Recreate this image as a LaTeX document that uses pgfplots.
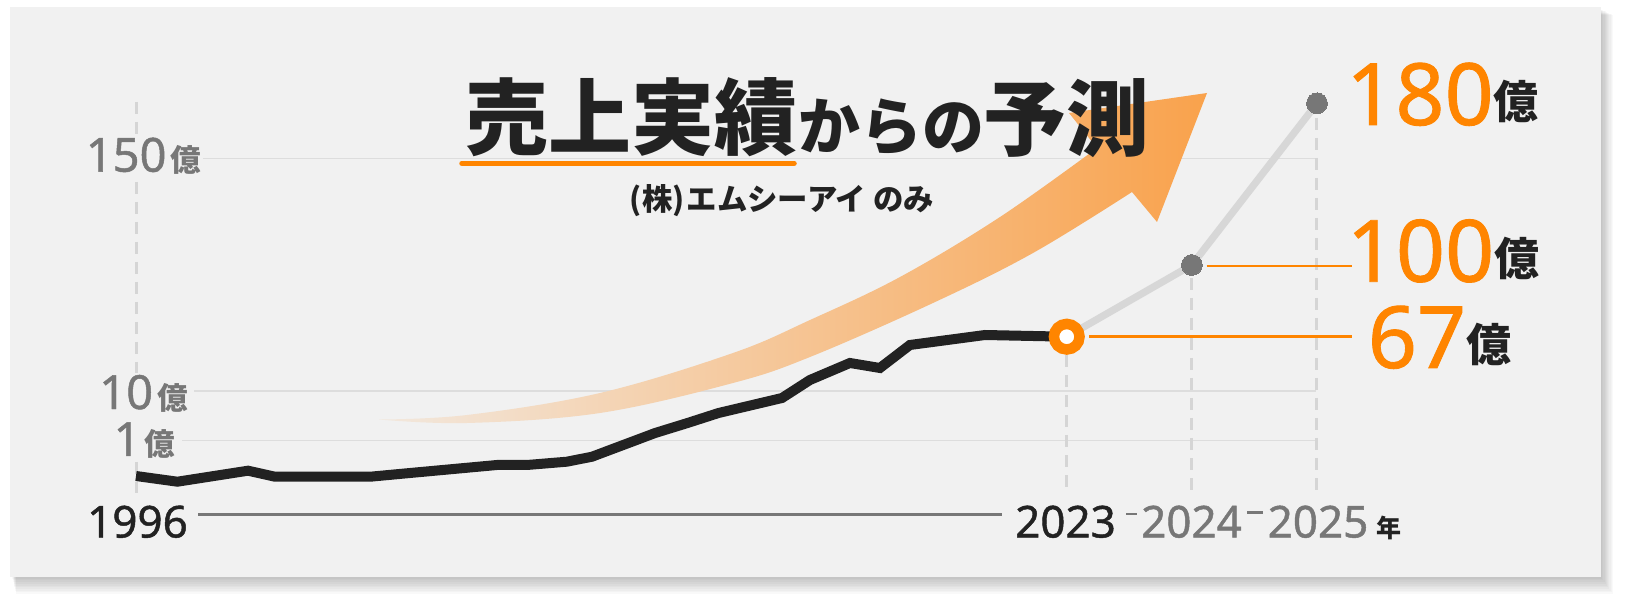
\documentclass[border=0pt]{standalone}
\usepackage{fontspec}
\setmainfont{Noto Sans CJK JP}
\newfontfamily\numf{Noto Sans}[FakeBold=1]
\usepackage{pgfplots}
\pgfplotsset{compat=1.18}
\definecolor{panel}{HTML}{F1F1F1}
\definecolor{ink}{HTML}{222222}
\definecolor{mid}{HTML}{777777}
\definecolor{gridc}{HTML}{DDDDDD}
\definecolor{dashc}{HTML}{D5D5D5}
\definecolor{fc}{HTML}{D7D7D7}
\definecolor{org}{HTML}{FF8500}
\definecolor{arrowL}{HTML}{F2E8DE}
\definecolor{arrowR}{HTML}{F9A24C}
\newcommand{\fs}[1]{\fontsize{#1}{#1}\selectfont}

% black line: x = year, y = visual height above the time axis
\pgfplotstableread{
x y
1996 38.3
1997.2 32.6
1999.25 43.6
2000.03 37.6
2002.8 37.6
2003.95 41.3
2006.47 49.3
2007.34 49.3
2008.5 52.6
2009.23 57.6
2011.06 81.3
2012 91.3
2012.9 101.3
2014.74 116.3
2015.55 134.3
2016.71 151.3
2017.58 146.3
2018.45 169.3
2020.63 179.3
2023 177.6
}\actual
% forecast: 2023, 2024, 2025 (x stretched as in the chart)
\pgfplotstableread{
x y
2023 177.6
2026.63 249.3
2030.26 411
}\forecast

\begin{document}
\begin{tikzpicture}
\begin{scope}[x=0.5pt,y=-0.5pt]
 \fill[white] (0,0) rectangle (1629,609);
 \foreach \i in {1,...,10} {\fill[black,opacity=0.022] (12+\i*0.4,9+\i*0.6) rectangle (1601+\i*1.2,577+\i*1.7);}
 \fill[panel] (10,7) rectangle (1601,577);
 \draw[gridc, line width=0.75pt] (203,158.3) -- (1316,158.3);
 \draw[gridc, line width=0.75pt] (194,391) -- (1316,391);
 \draw[gridc, line width=0.75pt] (182,440.7) -- (1316,440.7);
 \begin{scope}[dashc, line width=1.5pt, dash pattern=on 5.8pt off 4.2pt]
  \draw (136,102) -- (136,493);
  \draw (1066.7,355) -- (1066.7,493);
  \draw (1191.7,278) -- (1191.7,493);
  \draw (1316.5,118) -- (1316.5,495);
 \end{scope}
 \draw[mid, line width=1.65pt] (198,514.3) -- (1001.7,514.3);
 \draw[mid, line width=1.35pt] (1126,514) -- (1137,514);
 \draw[mid, line width=1.35pt] (1247,512.7) -- (1263,512.7);
 \shade[left color=arrowL, right color=arrowR] (379,419.5) -- plot[smooth, tension=0.6] coordinates {(379,419.5) (467,415) (600,393) (733,353) (810,320) (900,277) (1000,217) (1097,148)} -- (1069,113) -- (1207,93) -- (1157,222) -- (1132,192) -- plot[smooth,tension=0.6] coordinates {(1132,192) (1033,253) (933,303) (810,357) (733,383) (600,413) (467,423) (379,419.5)} -- cycle;
\end{scope}

\begin{axis}[at={(68pt,-257.15pt)}, anchor=south west, scale only axis,
  width=590.5pt, height=205.5pt, xmin=1996, xmax=2030.26, ymin=0, ymax=411,
  hide axis, clip=false]
 \addplot[fc, line width=3.6pt] table {\forecast};
 \addplot[ink, line width=5pt] table {\actual};
 \addplot[only marks, mark=*, mark size=5.2pt, mark options={fill=mid, draw=mid, line width=0pt}] table[skip first n=1] {\forecast};
 \addplot[only marks, mark=*, mark size=6.4pt, mark options={fill=white, draw=org, line width=5.25pt}] coordinates {(2023,177.6)};
\end{axis}

\begin{scope}[x=0.5pt,y=-0.5pt]
 \node[anchor=base, fill=panel, inner sep=1pt, text=mid] at (143.5,171.7) {\numf\fs{23.5pt}150\hspace{2pt}{\rmfamily\fs{15.3pt}\bfseries 億}};
 \node[anchor=base, fill=panel, inner sep=1pt, text=mid] at (143.5,409) {\numf\fs{23.5pt}10\hspace{2pt}{\rmfamily\fs{15.3pt}\bfseries 億}};
 \node[anchor=base, fill=panel, inner sep=1pt, text=mid] at (144.5,456) {\numf\fs{23.5pt}1\hspace{2pt}{\rmfamily\fs{15.3pt}\bfseries 億}};
 \node[anchor=base, inner sep=0, text=ink] at (137.5,537.5) {\numf\fs{22pt}1996};
 \node[anchor=base, inner sep=0, text=ink] at (1065.5,537.5) {\numf\fs{22pt}2023};
 \node[anchor=base, inner sep=0, text=mid] at (1191.5,537.5) {\numf\fs{22pt}2024};
 \node[anchor=base, inner sep=0, text=mid] at (1318,537.5) {\numf\fs{22pt}2025};
 \node[anchor=base, inner sep=0, text=ink] at (1389,537) {\fs{12.5pt}\bfseries 年};
 \draw[org, line width=1.2pt] (1206.7,266) -- (1352,266);
 \draw[org, line width=1.2pt] (1089,336.7) -- (1352,336.7);
 \node[anchor=base, inner sep=0, text=org] at (1442.5,125) {\numf\fs{43pt}180\raisebox{3pt}{\textcolor{ink}{\rmfamily\fs{22.5pt}\bfseries 億}}};
 \node[anchor=base, inner sep=0, text=org] at (1443,281.7) {\numf\fs{43pt}100\raisebox{3pt}{\textcolor{ink}{\rmfamily\fs{22.5pt}\bfseries 億}}};
 \node[anchor=base, inner sep=0, text=org] at (1439.5,368) {\numf\fs{43pt}67\raisebox{3pt}{\textcolor{ink}{\rmfamily\fs{22.5pt}\bfseries 億}}};
 \draw[org, line width=2.75pt, line cap=round] (462,163.3) -- (794,163.3);
 \node[inner sep=0, text=ink] at (631,117.4) {\fs{41.5pt}\bfseries 売上実績};
 \node[inner sep=0, text=ink] at (891.5,127.5) {\fs{31pt}\bfseries からの};
 \node[inner sep=0, text=ink] at (1066.5,118.4) {\fs{41.5pt}\bfseries 予測};
 \node[inner sep=0, text=ink] at (782,200.5) {\fs{15.2pt}\bfseries (株)\hspace{1pt}エムシーアイ のみ};
\end{scope}
\end{tikzpicture}
\end{document}
